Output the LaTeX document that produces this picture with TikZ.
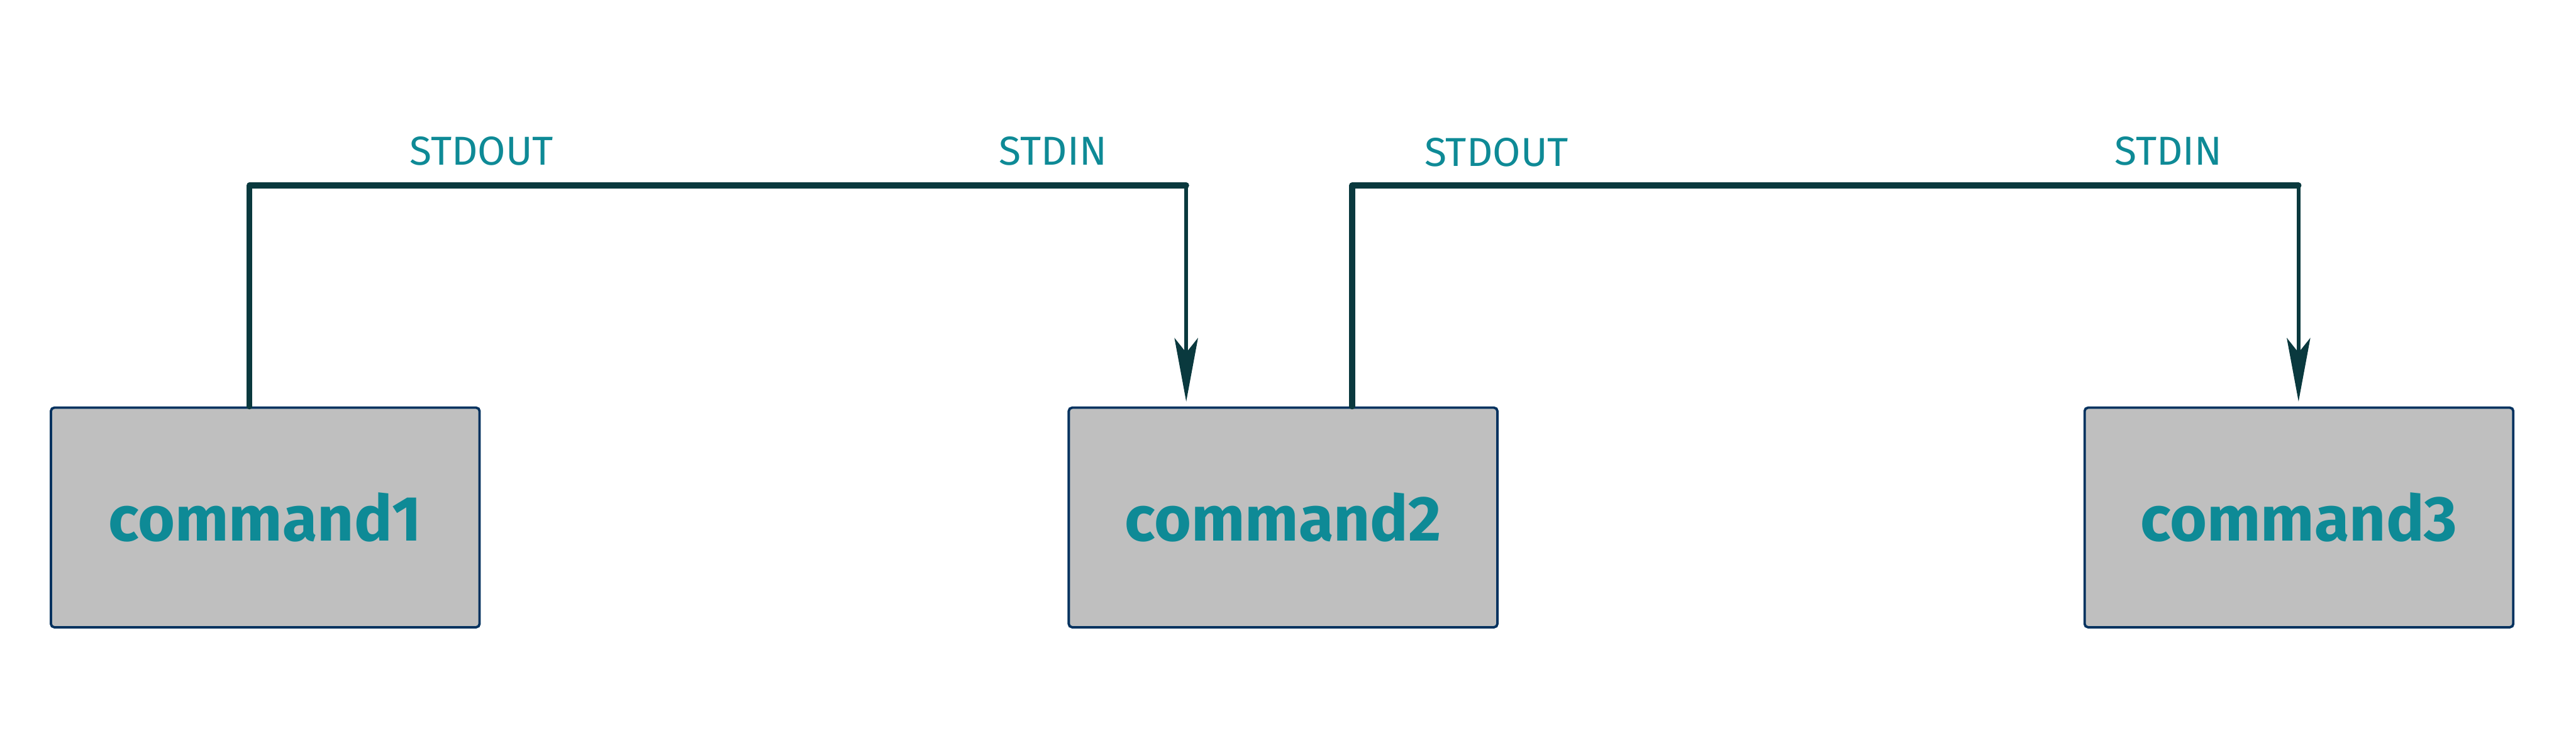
\documentclass[tikz,border=0pt]{standalone}
\usepackage{fontspec}
\setmainfont{Fira Sans}
\usetikzlibrary{arrows.meta,positioning}
\definecolor{BoxFill}{HTML}{BFBFBF}
\definecolor{BoxEdge}{HTML}{03325F}
\definecolor{PipeLine}{HTML}{0A393E}
\definecolor{Label}{HTML}{0E8A96}

\begin{document}
\begin{tikzpicture}[
    cmd/.style={draw=BoxEdge,fill=BoxFill,line width=1.4pt,rounded corners=2pt,
      minimum width=8.76cm,minimum height=4.49cm,text=Label,
      font=\fontsize{37}{40}\selectfont\bfseries},
    stream/.style={text=Label,font=\fontsize{23.5}{26}\selectfont},
    pipe/.style={PipeLine,line width=3.4pt,line cap=round,line join=round},
    feed/.style={PipeLine,line width=2pt,
      -{Stealth[length=1.3cm,width=0.48cm,inset=0.3cm]}}
  ]
    \useasboundingbox (0,0) rectangle (52.64,15.29);
    \node[cmd] at (5.42,4.71) (cmd1) {command1};
    \node[cmd,right=11.99cm of cmd1] (cmd2) {command2};
    \node[cmd,right=11.95cm of cmd2] (cmd3) {command3};
    % pipe corners
    \coordinate (out1) at (5.10,11.50);
    \coordinate (in2) at (24.24,11.50);
    \coordinate (out2) at (27.63,11.50);
    \coordinate (in3) at (46.97,11.50);
    \draw[pipe] (cmd1.north -| out1) -- (out1) -- (in2);
    \draw[feed] (in2) -- ([yshift=0.1cm]cmd2.north -| in2);
    \draw[pipe] (cmd2.north -| out2) -- (out2) -- (in3);
    \draw[feed] (in3) -- ([yshift=0.1cm]cmd3.north -| in3);
    \node[stream] at (9.84,12.20) (so1) {STDOUT};
    \node[stream] at (21.52,12.20) (si2) {STDIN};
    \node[stream] at (30.58,12.18) (so2) {STDOUT};
    \node[stream] at (44.31,12.20) (si3) {STDIN};
  \end{tikzpicture}
\end{document}
